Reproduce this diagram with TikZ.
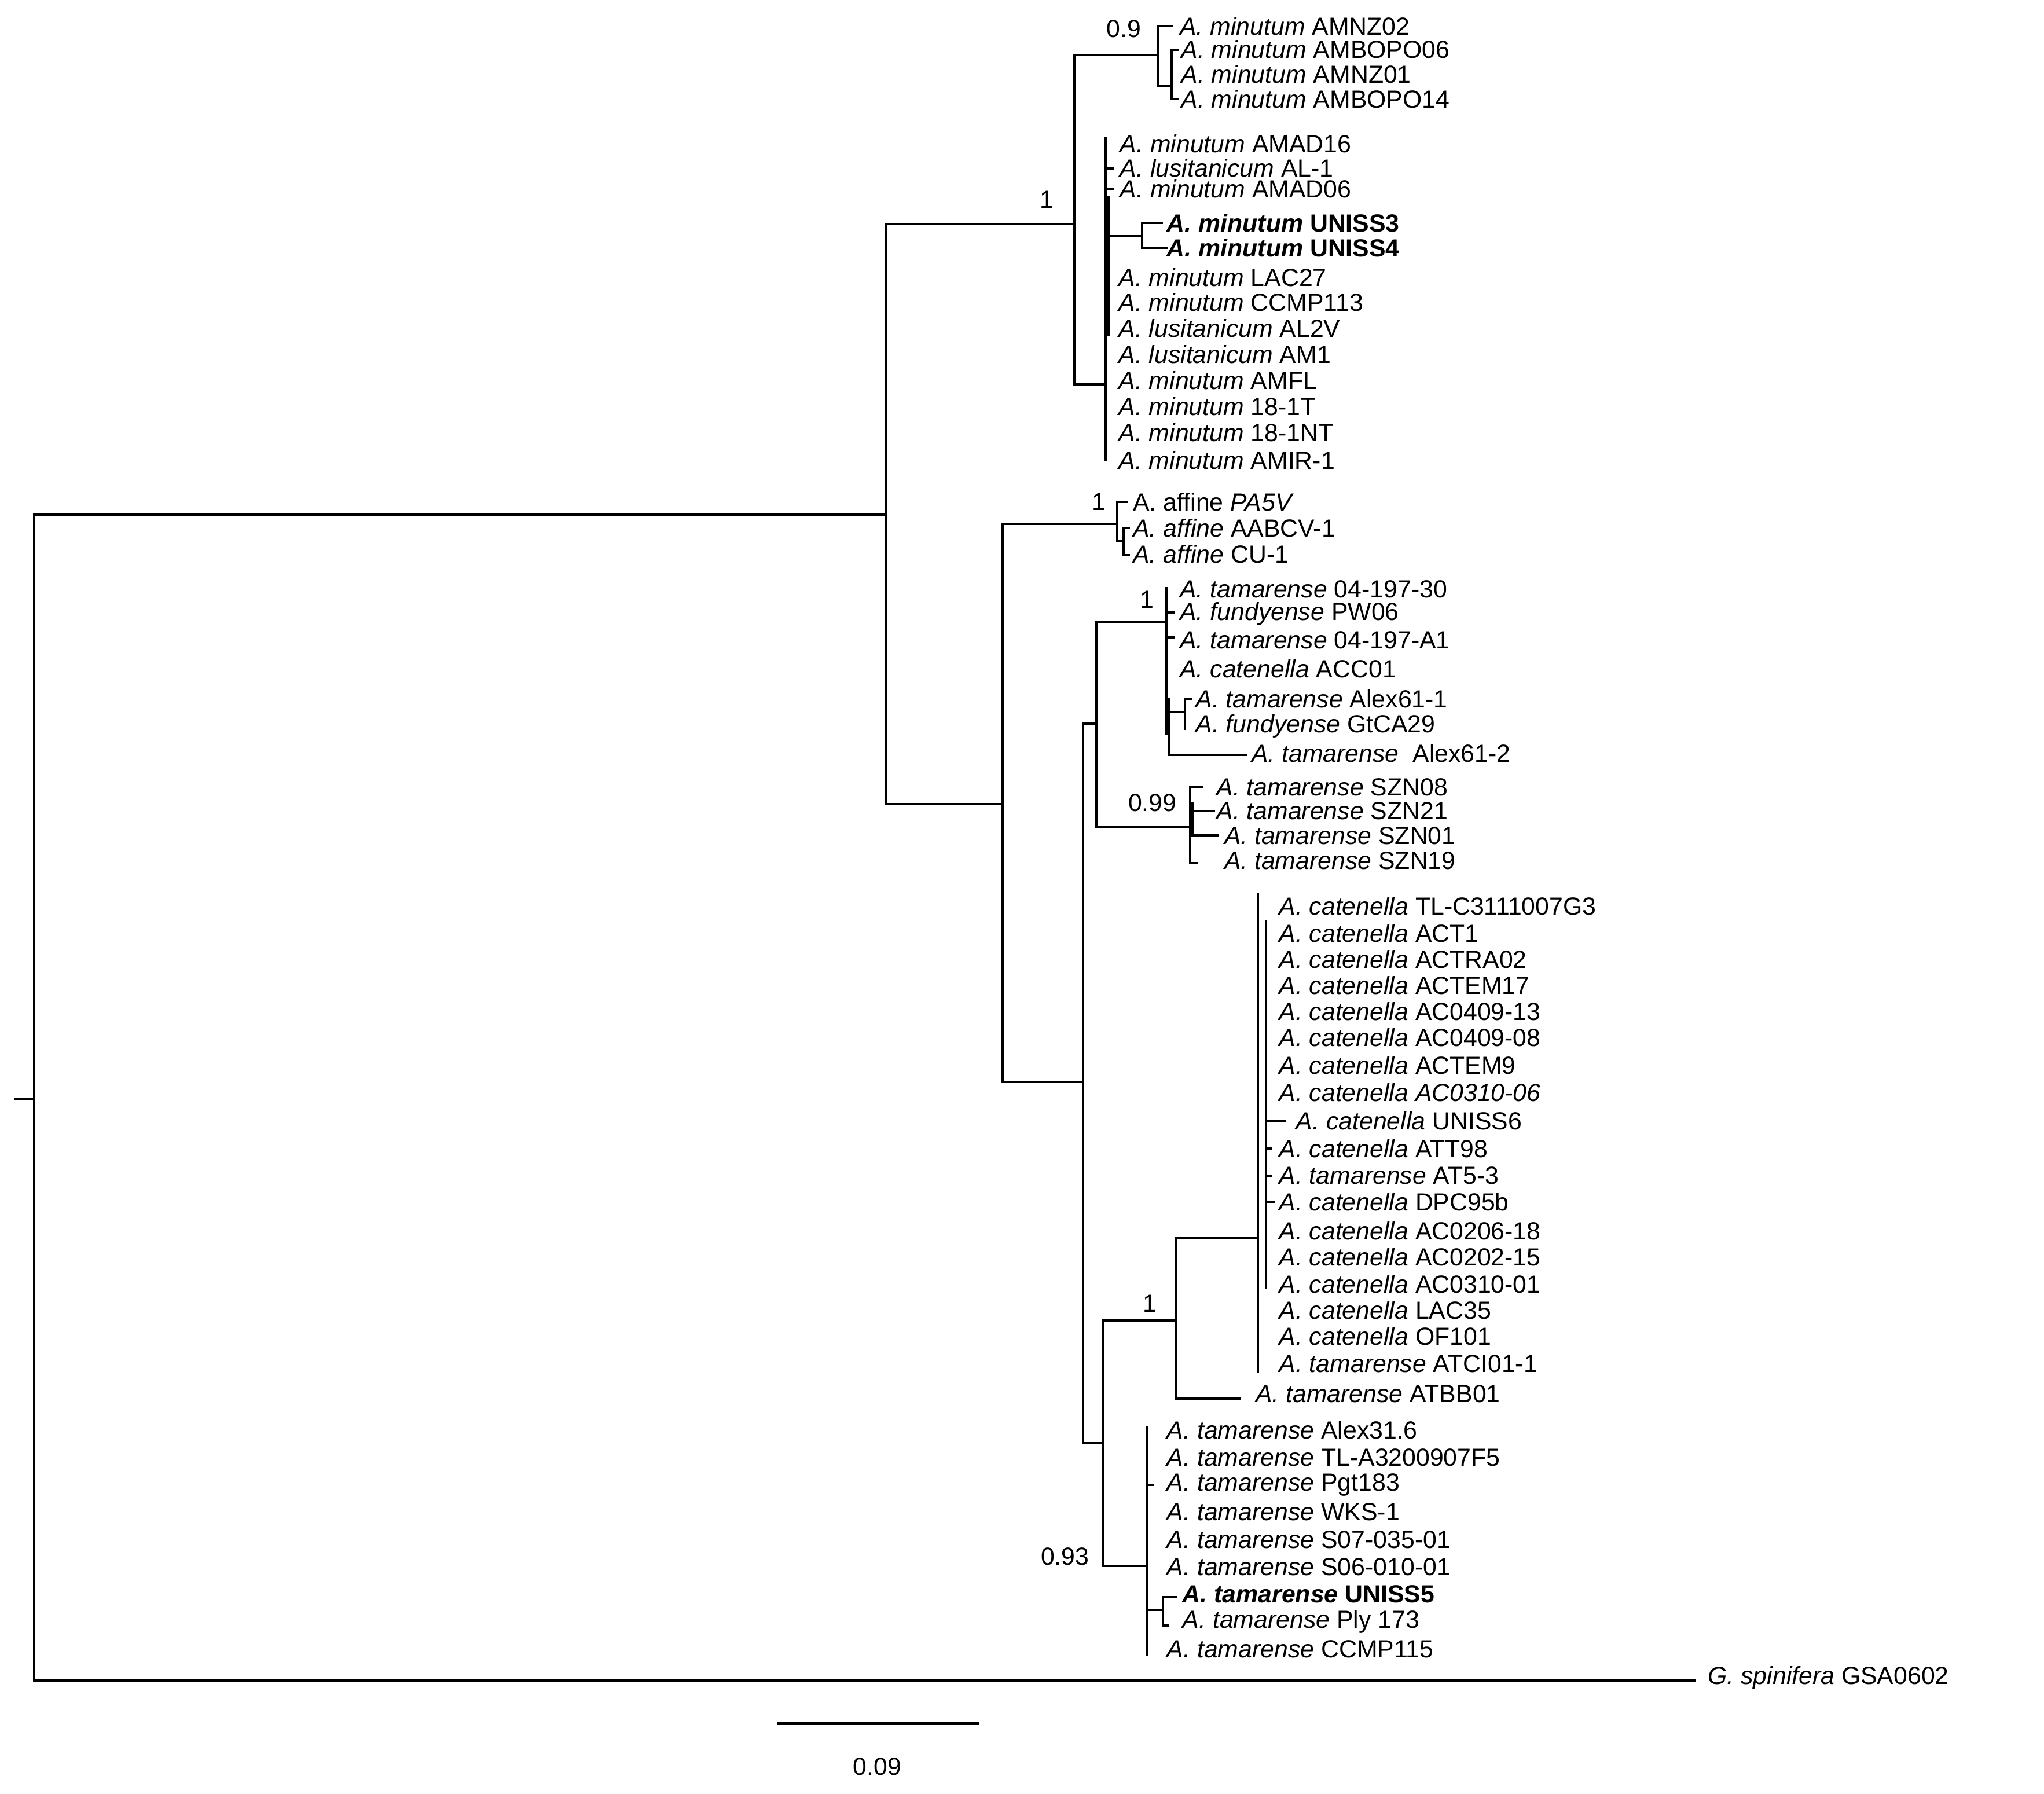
\documentclass[tikz,border=0pt]{standalone}
\usepackage{fontspec}
\setmainfont{Liberation Sans}
\newcommand\lfsize{\fontsize{19}{19}\selectfont}
\newcommand\mylf[4]{\node[lab] (#1) at (#2,#3) {#4};}
\newcommand\sn[1]{\textit{#1}}
\begin{document}
\begin{tikzpicture}[x=1pt,y=-1pt,
  br/.style={line width=1.8pt,line cap=rect},
  thk/.style={line width=3.6pt},
  lab/.style={anchor=west,inner sep=0pt,font=\lfsize},
  sup/.style={inner sep=0pt,font=\lfsize}]
\useasboundingbox (0,0) rectangle (1568,1376);
% root
\draw[br] (12,843) -- (26,843);
\draw[br] (680,395) -- (26,395) -- (26,1289) -- (1300,1289);
\node[lab] (gsp) at (1310,1287) {\sn{G. spinifera} GSA0602};
% ingroup
\draw[br] (824,172) -- (680,172) -- (680,617) -- (769,617);
\node[sup] (s1) at (803,153) {1};
% top clade
\draw[br] (888,42) -- (824,42) -- (824,295) -- (848,295);
\node[sup] (s09) at (862,22) {0.9};
\draw[br] (899,20) -- (888,20) -- (888,66) -- (899,66);
\draw[br] (903,38) -- (899,38) -- (899,76) -- (903,76);
\mylf{a1}{905}{20}{\sn{A. minutum} AMNZ02}
\mylf{a2}{906}{38}{\sn{A. minutum} AMBOPO06}
\mylf{a3}{906}{57}{\sn{A. minutum} AMNZ01}
\mylf{a4}{906}{76}{\sn{A. minutum} AMBOPO14}
% minutum clade
\draw[br] (848,106) -- (848,353);
\draw[thk] (850,150) -- (850,258);
\draw[br] (848,129) -- (854,129);
\draw[br] (848,145) -- (854,145);
\draw[br] (850,181) -- (876,181);
\draw[br] (891,171) -- (876,171) -- (876,190) -- (895,190);
\mylf{b1}{859}{110}{\sn{A. minutum} AMAD16}
\mylf{b2}{859}{129}{\sn{A. lusitanicum} AL-1}
\mylf{b3}{859}{145}{\sn{A. minutum} AMAD06}
\mylf{b4}{895}{171}{\textbf{\textit{A. minutum} UNISS3}}
\mylf{b5}{895}{190}{\textbf{\textit{A. minutum} UNISS4}}
\mylf{b6}{858}{213}{\sn{A. minutum} LAC27}
\mylf{b7}{858}{232}{\sn{A. minutum} CCMP113}
\mylf{b8}{858}{252}{\sn{A. lusitanicum} AL2V}
\mylf{b9}{858}{272}{\sn{A. lusitanicum} AM1}
\mylf{b10}{858}{292}{\sn{A. minutum} AMFL}
\mylf{b11}{858}{312}{\sn{A. minutum} 18-1T}
\mylf{b12}{858}{332}{\sn{A. minutum} 18-1NT}
\mylf{b13}{858}{353}{\sn{A. minutum} AMIR-1}
% lower big clade
\draw[br] (857,402) -- (769,402) -- (769,830) -- (831,830);
\draw[br] (864,385) -- (857,385) -- (857,415) -- (862,415);
\draw[br] (866,405) -- (862,405) -- (862,426) -- (866,426);
\node[sup] (s1b) at (843,385) {1};
\mylf{c1}{869}{385}{A. affine \sn{PA5V}}
\mylf{c2}{869}{405}{\sn{A. affine} AABCV-1}
\mylf{c3}{869}{425}{\sn{A. affine} CU-1}
% tamarense group
\draw[br] (841,555) -- (831,555) -- (831,1107) -- (846,1107);
\draw[br] (895,477) -- (841,477) -- (841,634) -- (913,634);
\node[sup] (s1c) at (880,460) {1};
\draw[br] (895,451) -- (895,563);
\draw[thk] (896,535) -- (896,563);
\draw[br] (895,470) -- (900,470);
\draw[br] (895,489) -- (900,489);
\draw[br] (909,546) -- (897,546);
\draw[br] (914,536) -- (909,536) -- (909,559);
\draw[br] (897,560) -- (897,579) -- (956,579);
\mylf{d1}{905}{452}{\sn{A. tamarense} 04-197-30}
\mylf{d2}{905}{471}{\sn{A. fundyense} PW06}
\mylf{d3}{905}{491}{\sn{A. tamarense} 04-197-A1}
\mylf{d4}{905}{513}{\sn{A. catenella} ACC01}
\mylf{d5}{917}{536}{\sn{A. tamarense} Alex61-1}
\mylf{d6}{917}{557}{\sn{A. fundyense} GtCA29}
\mylf{d7}{960}{578}{\sn{A. tamarense}\ \ Alex61-2}
\node[sup] (s099) at (884,616) {0.99};
\draw[br] (922,604) -- (913,604) -- (913,662) -- (918,662);
\draw[thk] (914,615) -- (914,640);
\draw[br] (913,622) -- (931,622);
\draw[br] (913,641) -- (934,641);
\mylf{e1}{933}{604}{\sn{A. tamarense} SZN08}
\mylf{e2}{933}{622}{\sn{A. tamarense} SZN21}
\mylf{e3}{939}{641}{\sn{A. tamarense} SZN01}
\mylf{e4}{939}{660}{\sn{A. tamarense} SZN19}
% catenella group
\draw[br] (902,1013) -- (846,1013) -- (846,1201) -- (880,1201);
\node[sup] (s1d) at (882,1000) {1};
\draw[br] (965,950) -- (902,950) -- (902,1073) -- (951,1073);
\draw[br] (965,686) -- (965,1052);
\draw[br] (971,707) -- (971,988);
\draw[br] (971,860) -- (986,860);
\draw[br] (971,881) -- (975,881);
\draw[br] (971,902) -- (975,902);
\draw[br] (971,922) -- (977,922);
\mylf{f1}{981}{695}{\sn{A. catenella} TL-C3111007G3}
\mylf{f2}{981}{716}{\sn{A. catenella} ACT1}
\mylf{f3}{981}{736}{\sn{A. catenella} ACTRA02}
\mylf{f4}{981}{756}{\sn{A. catenella} ACTEM17}
\mylf{f5}{981}{776}{\sn{A. catenella} AC0409-13}
\mylf{f6}{981}{796}{\sn{A. catenella} AC0409-08}
\mylf{f7}{981}{817}{\sn{A. catenella} ACTEM9}
\mylf{f8}{981}{838}{\sn{A. catenella AC0310-06}}
\mylf{f9}{994}{860}{\sn{A. catenella} UNISS6}
\mylf{f10}{981}{881}{\sn{A. catenella} ATT98}
\mylf{f11}{981}{902}{\sn{A. tamarense} AT5-3}
\mylf{f12}{981}{922}{\sn{A. catenella} DPC95b}
\mylf{f13}{981}{944}{\sn{A. catenella} AC0206-18}
\mylf{f14}{981}{964}{\sn{A. catenella} AC0202-15}
\mylf{f15}{981}{985}{\sn{A. catenella} AC0310-01}
\mylf{f16}{981}{1005}{\sn{A. catenella} LAC35}
\mylf{f17}{981}{1025}{\sn{A. catenella} OF101}
\mylf{f18}{981}{1046}{\sn{A. tamarense} ATCI01-1}
\mylf{f19}{963}{1069}{\sn{A. tamarense} ATBB01}
% tamarense group 2
\node[sup] (s093) at (817,1194) {0.93};
\draw[br] (880,1095) -- (880,1269);
\draw[br] (880,1139) -- (884,1139);
\draw[br] (880,1235) -- (892,1235);
\draw[br] (902,1225) -- (892,1225) -- (892,1247) -- (896,1247);
\mylf{g1}{895}{1097}{\sn{A. tamarense} Alex31.6}
\mylf{g2}{895}{1118}{\sn{A. tamarense} TL-A3200907F5}
\mylf{g3}{895}{1139}{\sn{A. tamarense} Pgt183}
\mylf{g4}{895}{1160}{\sn{A. tamarense} WKS-1}
\mylf{g5}{895}{1181}{\sn{A. tamarense} S07-035-01}
\mylf{g6}{895}{1202}{\sn{A. tamarense} S06-010-01}
\mylf{g7}{907}{1223}{\textbf{\textit{A. tamarense} UNISS5}}
\mylf{g8}{907}{1244}{\sn{A. tamarense} Ply 173}
\mylf{g9}{895}{1265}{\sn{A. tamarense} CCMP115}
% scale bar
\draw[br] (597,1322) -- (750,1322);
\node[sup] (sc) at (673,1355) {0.09};
\end{tikzpicture}
\end{document}
